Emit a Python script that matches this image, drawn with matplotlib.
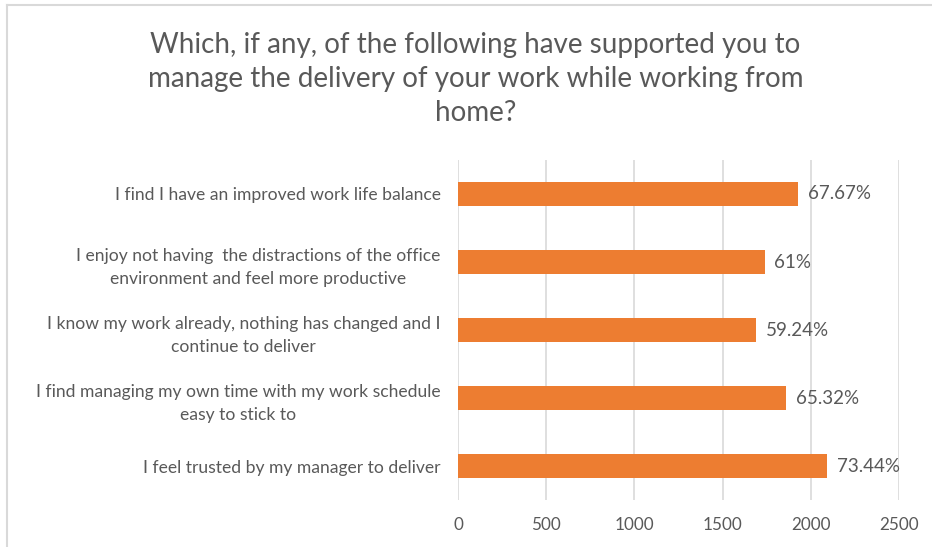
import matplotlib.pyplot as plt
from matplotlib.lines import Line2D

plt.rcParams['font.family'] = ['Lato', 'DejaVu Sans']

categories = [
    "I feel trusted by my manager to deliver",
    "I find managing my own time with my work schedule\neasy to stick to",
    "I know my work already, nothing has changed and I\ncontinue to deliver",
    "I enjoy not having  the distractions of the office\nenvironment and feel more productive",
    "I find I have an improved work life balance",
]
counts = [2093, 1862, 1688, 1739, 1929]
pct_labels = ["73.44%", "65.32%", "59.24%", "61%", "67.67%"]
xticks = [0, 500, 1000, 1500, 2000, 2500]

text_col = '#595959'
bar_col = '#ED7D31'

fig = plt.figure(figsize=(9.32, 5.47), dpi=100)
ax = fig.add_axes([0.4914, 0.0859, 0.4732, 0.6216])

y = range(len(categories))
ax.barh(y, counts, height=0.35, color=bar_col, zorder=3)
for i, v in enumerate(counts):
    ax.text(v + 55, i, pct_labels[i], va='center', ha='left',
            fontsize=13.5, color=text_col)

ax.set_xlim(0, 2500)
ax.set_ylim(-0.5, len(categories) - 0.5)
ax.set_xticks(xticks)
ax.set_xticklabels([str(t) for t in xticks])
ax.set_yticks(list(y))
ax.set_yticklabels(categories, multialignment='center', linespacing=1.6)
ax.tick_params(axis='both', length=0, colors=text_col)
ax.tick_params(axis='x', pad=12, labelsize=12.3)
ax.tick_params(axis='y', pad=12.5, labelsize=12.6)
ax.grid(axis='x', color='#D9D9D9', linewidth=1.2, zorder=0)
for s in ax.spines.values():
    s.set_visible(False)

fig.text(0.51, 0.856, "Which, if any, of the following have supported you to\n"
         "manage the delivery of your work while working from\nhome?",
         ha='center', va='center', fontsize=20, color=text_col,
         linespacing=1.38)

# chart frame (top and left edges visible in the crop)
fig.add_artist(Line2D([0.007, 1], [0.99, 0.99], transform=fig.transFigure,
                      color='#D9D9D9', linewidth=1.5))
fig.add_artist(Line2D([0.008, 0.008], [0, 0.99], transform=fig.transFigure,
                      color='#D9D9D9', linewidth=1.5))

fig.savefig('out.png', dpi=100)
